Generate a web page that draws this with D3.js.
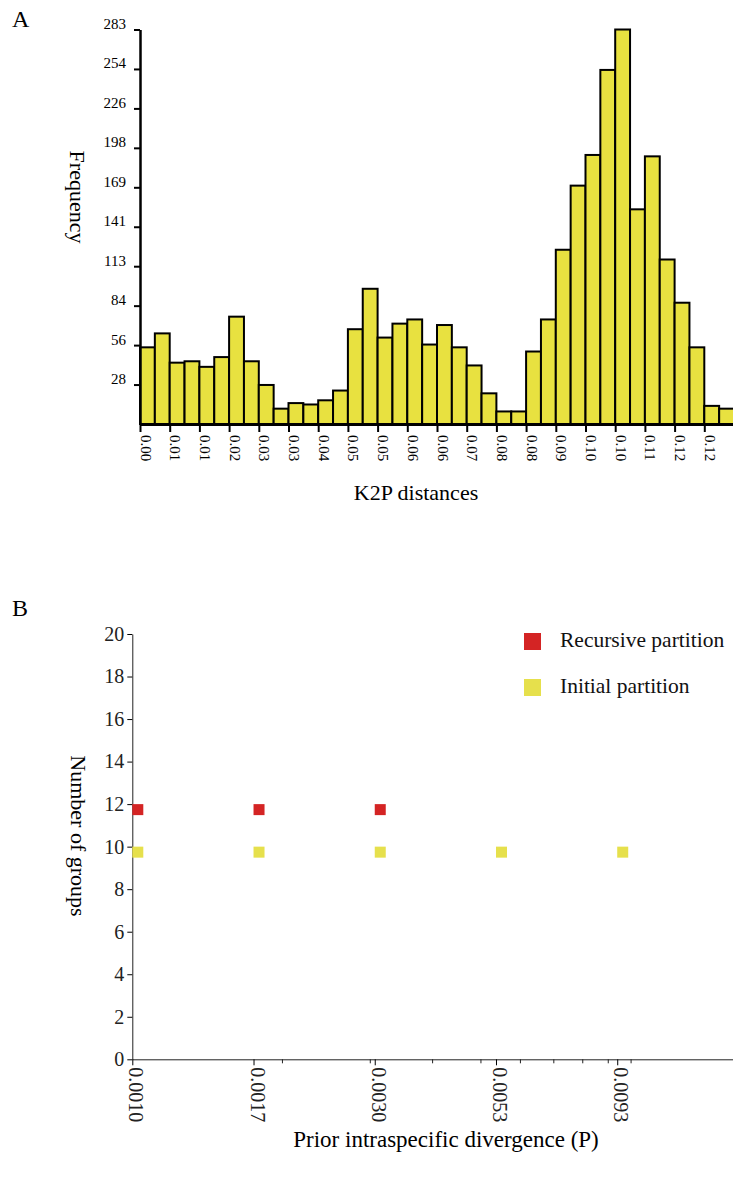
<!DOCTYPE html>
<html><head><meta charset="utf-8">
<script src="https://cdn.jsdelivr.net/npm/d3@7"></script>
<style>html,body{margin:0;padding:0;background:#fff;} svg text{font-family:"Liberation Serif","Times New Roman",serif;}</style>
</head><body>
<script>
// ---- Panel A data: K2P distance histogram ----
const binCounts = [55,65,44,45,41,48,77,45,28,11,15,14,17,24,68,97,62,72,75,57,71,55,42,22,9,9,52,75,125,171,193,254,283,154,192,118,87,55,13,11];
const kTickLabels = ["0.00","0.01","0.01","0.02","0.03","0.03","0.04","0.05","0.05","0.06","0.06","0.07","0.08","0.08","0.09","0.10","0.10","0.11","0.12","0.12"];
const freqMax = 283;
const freqTickLabels = ["28","56","84","113","141","169","198","226","254","283"];

// ---- Panel B data: number of groups vs prior intraspecific divergence ----
const priorP = [0.001, 0.00175, 0.0030625, 0.00536, 0.00938];
const priorTickLabels = ["0.0010","0.0017","0.0030","0.0053","0.0093"];
const recursiveGroups = [12, 12, 12, null, null];
const initialGroups = [10, 10, 10, 10, 10];
const groupTicks = [0,2,4,6,8,10,12,14,16,18,20];
const minorP = [0.002,0.003,0.004,0.005,0.006,0.007,0.008,0.009,0.01];
const seriesNames = ["Recursive partition", "Initial partition"];

const W = 733, H = 1188;
const FONT = "Liberation Serif, Times New Roman, serif";
const BAR = "#E8E140", RED = "#D42424", YEL = "#E6E04C";

const svg = d3.select("body").append("svg").attr("width", W).attr("height", H)
  .attr("font-family", FONT);

// ================= Panel A =================
const xA = d3.scaleLinear().domain([0, binCounts.length]).range([140, 734]);
const yA = d3.scaleLinear().domain([0, freqMax]).range([424, 29.5]);

svg.append("text").attr("x", 12).attr("y", 27).attr("font-size", 24).text("A");

svg.append("g").selectAll("rect").data(binCounts).join("rect")
  .attr("x", (d, i) => xA(i))
  .attr("y", d => yA(d))
  .attr("width", (d, i) => xA(i + 1) - xA(i))
  .attr("height", d => yA(0) - yA(d))
  .attr("fill", BAR).attr("stroke", "#000").attr("stroke-width", 2);

const yAxisA = svg.append("g").attr("transform", "translate(140,0)")
  .call(d3.axisLeft(yA)
    .tickValues(freqTickLabels.map((d, i) => freqMax * (i + 1) / 10))
    .tickFormat((d, i) => freqTickLabels[i])
    .tickSize(6).tickSizeOuter(0).tickPadding(8));
yAxisA.attr("font-family", FONT).attr("font-size", 15);
yAxisA.select(".domain").attr("stroke-width", 2.5);
yAxisA.selectAll(".tick line").attr("stroke-width", 2);
yAxisA.selectAll(".tick text").attr("dy", 0).attr("y", -1).attr("fill", "#000");

const xAxisA = svg.append("g").attr("transform", "translate(0,424)")
  .call(d3.axisBottom(xA)
    .tickValues(kTickLabels.map((d, i) => i * 2))
    .tickFormat((d, i) => kTickLabels[i])
    .tickSize(8).tickSizeOuter(0));
xAxisA.attr("font-family", FONT).attr("font-size", 15);
xAxisA.select(".domain").attr("stroke-width", 3);
xAxisA.selectAll(".tick line").attr("stroke-width", 2);
xAxisA.selectAll(".tick text")
  .attr("transform", "rotate(90)").attr("x", 11).attr("y", 0).attr("dy", 0)
  .style("text-anchor", "start").attr("fill", "#000");

svg.append("text").attr("x", 416).attr("y", 500).attr("text-anchor", "middle")
  .attr("font-size", 22).text("K2P distances");
svg.append("text").attr("transform", "translate(70,197) rotate(90)")
  .attr("text-anchor", "middle").attr("font-size", 22).text("Frequency");

// ================= Panel B =================
const xB = d3.scaleLog().domain([0.001, 0.016]).range([132.3, 732.9]);
const yB = d3.scaleLinear().domain([0, 20]).range([1059.3, 634]);

svg.append("text").attr("x", 12).attr("y", 616).attr("font-size", 24).text("B");

const yAxisB = svg.append("g").attr("transform", "translate(132.3,0)")
  .call(d3.axisLeft(yB).tickValues(groupTicks).tickFormat(d3.format("d"))
    .tickSize(5).tickSizeOuter(0).tickPadding(3));
yAxisB.attr("font-family", FONT).attr("font-size", 20);
yAxisB.select(".domain").attr("stroke", "#222");
yAxisB.selectAll(".tick text").attr("fill", "#222");

// minor log ticks
svg.append("g").attr("transform", "translate(0,1059.3)")
  .selectAll("line").data(minorP).join("line")
  .attr("x1", d => xB(d)).attr("x2", d => xB(d))
  .attr("y1", 0).attr("y2", 4).attr("stroke", "#222");

const xAxisB = svg.append("g").attr("transform", "translate(0,1059.3)")
  .call(d3.axisBottom(xB).tickValues(priorP)
    .tickFormat((d, i) => priorTickLabels[i])
    .tickSize(6).tickSizeOuter(0));
xAxisB.attr("font-family", FONT).attr("font-size", 20);
xAxisB.select(".domain").attr("stroke", "#222");
xAxisB.selectAll(".tick text")
  .attr("transform", "rotate(90)").attr("x", 8).attr("y", 3.5).attr("dy", 0)
  .style("text-anchor", "start").attr("fill", "#222");

const SQ = 11;
svg.append("g").selectAll("rect").data(priorP.map((p, i) => ({p, v: initialGroups[i]})).filter(d => d.v != null))
  .join("rect").attr("x", d => xB(d.p)).attr("y", d => yB(d.v))
  .attr("width", SQ).attr("height", SQ).attr("fill", YEL);
svg.append("g").selectAll("rect").data(priorP.map((p, i) => ({p, v: recursiveGroups[i]})).filter(d => d.v != null))
  .join("rect").attr("x", d => xB(d.p)).attr("y", d => yB(d.v))
  .attr("width", SQ).attr("height", SQ).attr("fill", RED);

// legend
const legend = svg.append("g");
[RED, YEL].forEach((c, i) => {
  legend.append("rect").attr("x", 524).attr("y", 633 + i * 46).attr("width", 17).attr("height", 17).attr("fill", c);
  legend.append("text").attr("x", 560).attr("y", 647 + i * 46).attr("font-size", 21.5)
    .attr("fill", "#111").text(seriesNames[i]);
});

svg.append("text").attr("transform", "translate(71,836) rotate(90)")
  .attr("text-anchor", "middle").attr("font-size", 22).text("Number of groups");
svg.append("text").attr("x", 446).attr("y", 1147).attr("text-anchor", "middle")
  .attr("font-size", 23).text("Prior intraspecific divergence (P)");
</script>
</body></html>
